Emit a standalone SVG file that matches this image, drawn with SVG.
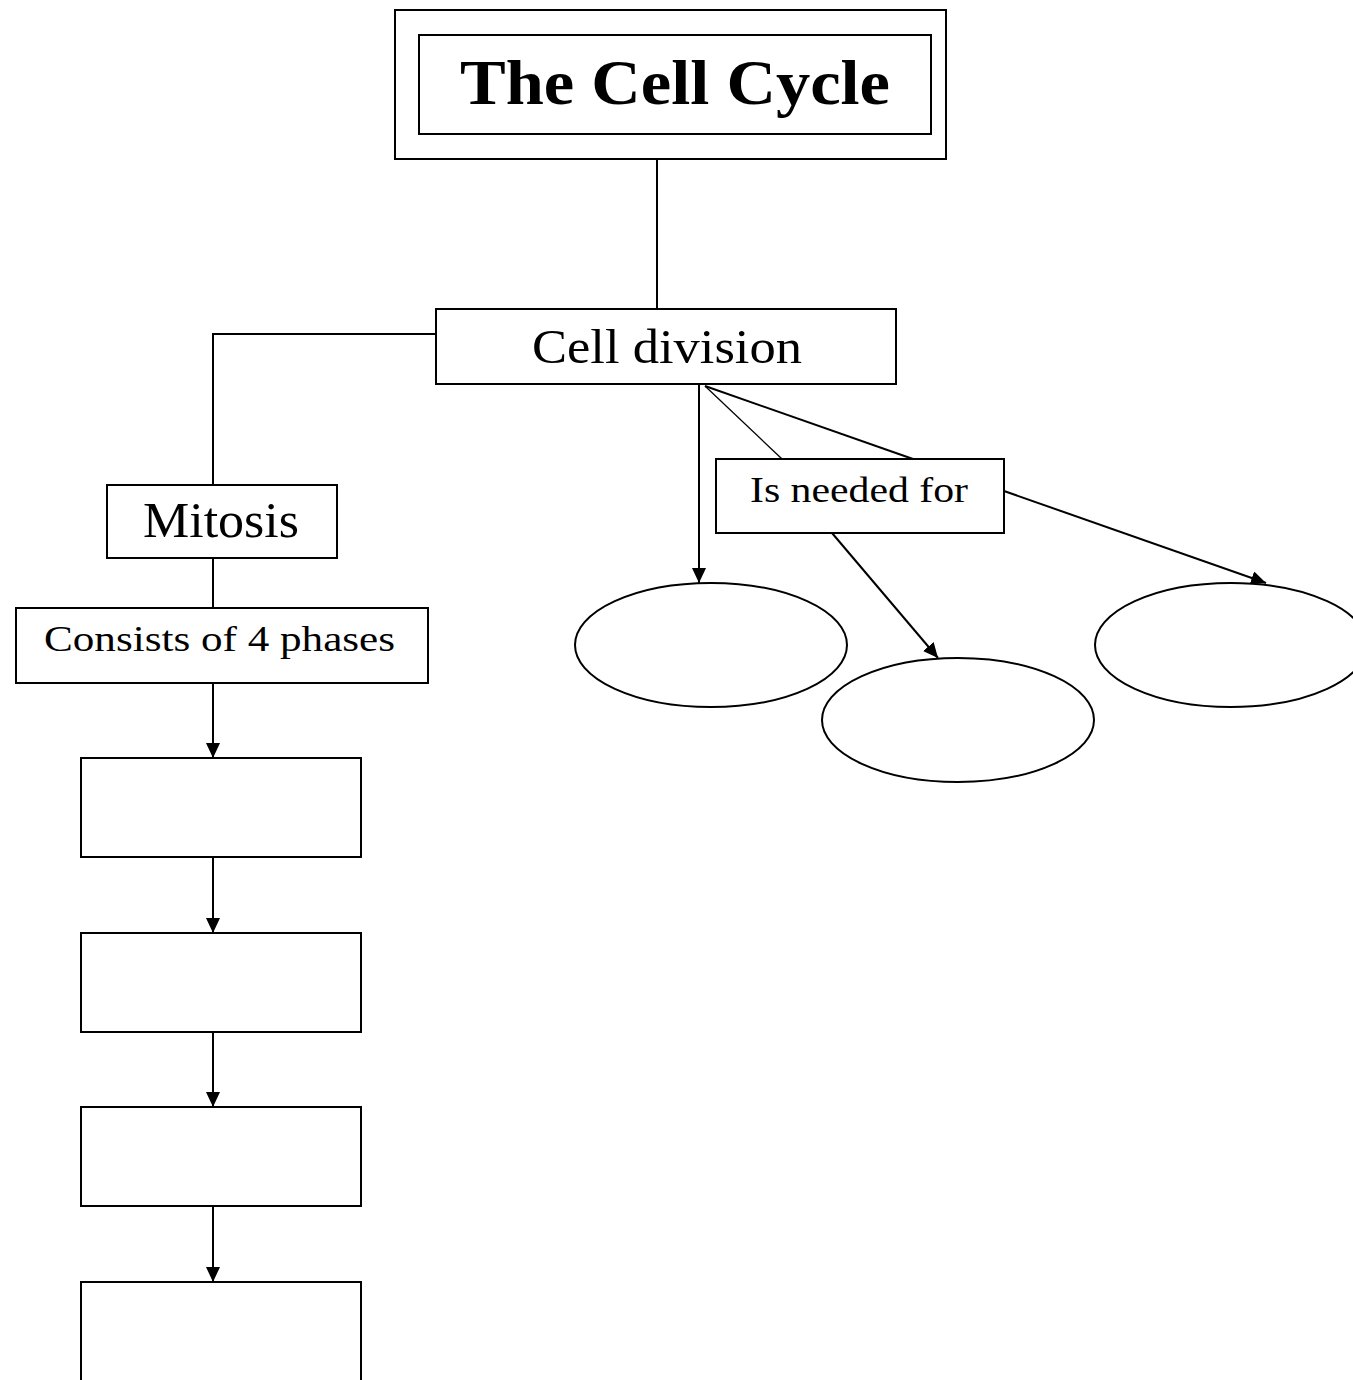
<svg xmlns="http://www.w3.org/2000/svg" width="1353" height="1380" viewBox="0 0 1353 1380">
<style>
.box{fill:#fff;stroke:#000;stroke-width:2}
.ln{fill:none;stroke:#000;stroke-width:2}
.thin{fill:none;stroke:#000;stroke-width:1.3}
.t{font-family:"Liberation Serif",serif;fill:#000}
</style>
<defs>
<marker id="ah" viewBox="0 0 15 14" refX="15" refY="7" markerWidth="15" markerHeight="14" markerUnits="userSpaceOnUse" orient="auto">
<path d="M0,0 L15,7 L0,14 Z" fill="#000"/>
</marker>
</defs>
<rect width="1353" height="1380" fill="#fff"/>
<g id="connectors">
<line class="ln" x1="657" y1="159" x2="657" y2="309"/>
<polyline class="ln" points="436,334 213,334 213,485"/>
<line class="ln" x1="213" y1="558" x2="213" y2="608"/>
<line class="ln" x1="213" y1="683" x2="213" y2="758" marker-end="url(#ah)"/>
<line class="ln" x1="213" y1="857" x2="213" y2="933" marker-end="url(#ah)"/>
<line class="ln" x1="213" y1="1032" x2="213" y2="1107" marker-end="url(#ah)"/>
<line class="ln" x1="213" y1="1206" x2="213" y2="1282" marker-end="url(#ah)"/>
<line class="ln" x1="699" y1="384" x2="699" y2="583" marker-end="url(#ah)"/>
<line class="thin" x1="705" y1="386" x2="782" y2="459"/>
<line class="ln" x1="705" y1="386" x2="913" y2="459"/>
<line class="ln" x1="832" y1="533" x2="938" y2="658" marker-end="url(#ah)"/>
<line class="ln" x1="1004" y1="491" x2="1266" y2="583" marker-end="url(#ah)"/>
</g>
<g id="title">
<rect class="box" x="395" y="10" width="551" height="149"/>
<rect class="box" x="419" y="35" width="512" height="99"/>
<text class="t" x="460" y="104" font-size="64" font-weight="bold" textLength="430" lengthAdjust="spacingAndGlyphs">The Cell Cycle</text>
</g>
<g id="cell-division">
<rect class="box" x="436" y="309" width="460" height="75"/>
<text class="t" x="532" y="363" font-size="49" textLength="270" lengthAdjust="spacingAndGlyphs">Cell division</text>
</g>
<g id="mitosis">
<rect class="box" x="107" y="485" width="230" height="73"/>
<text class="t" x="143" y="537" font-size="50" textLength="156" lengthAdjust="spacingAndGlyphs">Mitosis</text>
</g>
<g id="consists">
<rect class="box" x="16" y="608" width="412" height="75"/>
<text class="t" x="44" y="651" font-size="36" textLength="351" lengthAdjust="spacingAndGlyphs">Consists of 4 phases</text>
</g>
<g id="phase1"><rect class="box" x="81" y="758" width="280" height="99"/></g>
<g id="phase2"><rect class="box" x="81" y="933" width="280" height="99"/></g>
<g id="phase3"><rect class="box" x="81" y="1107" width="280" height="99"/></g>
<g id="phase4"><rect class="box" x="81" y="1282" width="280" height="120"/></g>
<g id="needed">
<rect class="box" x="716" y="459" width="288" height="74"/>
<text class="t" x="750" y="502" font-size="36" textLength="218" lengthAdjust="spacingAndGlyphs">Is needed for</text>
</g>
<g id="ellipse1"><ellipse class="box" cx="711" cy="645" rx="136" ry="62"/></g>
<g id="ellipse2"><ellipse class="box" cx="958" cy="720" rx="136" ry="62"/></g>
<g id="ellipse3"><ellipse class="box" cx="1231" cy="645" rx="136" ry="62"/></g>
</svg>
